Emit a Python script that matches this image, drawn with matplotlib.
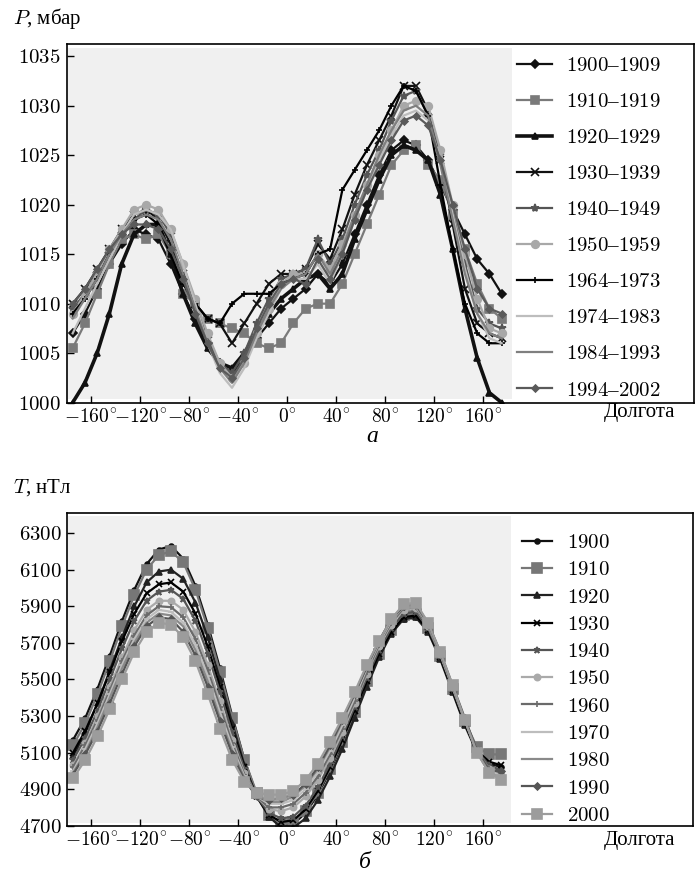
import matplotlib
matplotlib.use('Agg')
import matplotlib.pyplot as plt

plt.rcParams['mathtext.fontset'] = 'cm'
plt.rcParams['font.family'] = ['Liberation Serif', 'DejaVu Serif']

# долготы (общие для обеих панелей)
lon = [-175, -165, -155, -145, -135, -125, -115, -105, -95, -85, -75, -65,
       -55, -45, -35, -25, -15, -5, 5, 15, 25, 35, 45, 55,
       65, 75, 85, 95, 105, 115, 125, 135, 145, 155, 165, 175]

# --- а: давление P, мбар ---
p_labels = ['1900–1909', '1910–1919', '1920–1929', '1930–1939', '1940–1949',
            '1950–1959', '1964–1973', '1974–1983', '1984–1993', '1994–2002']
p_1900 = [1007, 1009, 1011.5, 1014, 1016, 1017.5, 1017, 1016.5, 1014, 1011, 1008.5, 1006,
          1004, 1003, 1004.5, 1006.5, 1008, 1009.5, 1010.5, 1011.5, 1013, 1012, 1014, 1017,
          1020, 1023, 1025.5, 1026.5, 1026, 1024.5, 1022, 1019.5, 1017, 1014.5, 1013, 1011]
p_1910 = [1005.5, 1008, 1011, 1014, 1016.5, 1017, 1016.5, 1017, 1015, 1011, 1010, 1008.5,
          1008, 1007.5, 1007, 1006, 1005.5, 1006, 1008, 1009.5, 1010, 1010, 1012, 1015,
          1018, 1021, 1024, 1025.5, 1026, 1024, 1022.5, 1019, 1015.5, 1012, 1009.5, 1008.5]
p_1920 = [1000, 1002, 1005, 1009, 1014, 1017, 1018, 1018, 1015, 1011, 1008, 1005.5,
          1004, 1003.5, 1005, 1007, 1009, 1010.5, 1011.5, 1012.5, 1013, 1011.5, 1013, 1016.5,
          1019.5, 1022.5, 1025, 1026, 1025.5, 1024.5, 1021, 1015.5, 1009.5, 1004.5, 1001, 1000]
p_1930 = [1010, 1011.5, 1013.5, 1015.5, 1017.5, 1019, 1019.5, 1018.5, 1016, 1013, 1010, 1008.5,
          1008, 1006, 1008, 1010, 1012, 1013, 1013, 1013.5, 1016, 1014.5, 1017.5, 1021,
          1024, 1026.5, 1029, 1032, 1032, 1029.5, 1024.5, 1018, 1011.5, 1008, 1007, 1006.5]
p_1940 = [1009.5, 1011, 1013, 1015, 1017, 1018.5, 1019.5, 1019, 1017, 1014, 1010, 1006.5,
          1004, 1003, 1005, 1008, 1010.5, 1012.5, 1013, 1013.5, 1016.5, 1014, 1016.5, 1020,
          1023, 1025.5, 1028.5, 1031, 1031.5, 1029, 1025, 1019.5, 1014, 1009.5, 1008, 1007.5]
p_1950 = [1009, 1011, 1013, 1015.5, 1017.5, 1019.5, 1020, 1019.5, 1017.5, 1014, 1010.5, 1007,
          1004, 1002.5, 1004, 1007, 1009.5, 1012, 1013, 1013, 1015, 1013.5, 1016, 1019,
          1022, 1025, 1027.5, 1030, 1030.5, 1030, 1025.5, 1020, 1015, 1010.5, 1007.5, 1007]
p_1964 = [1009, 1010.5, 1012.5, 1015, 1017, 1018.5, 1019, 1018, 1015, 1012, 1010, 1008.5,
          1008, 1010, 1011, 1011, 1011, 1012, 1012.5, 1013, 1015, 1015.5, 1021.5, 1023.5,
          1025.5, 1027.5, 1030, 1032, 1031.5, 1029, 1022, 1015.5, 1010, 1007, 1006, 1006]
p_1974 = [1007, 1009.5, 1012, 1014.5, 1017, 1019, 1019.5, 1019, 1017.5, 1014, 1010, 1006,
          1003, 1001.5, 1003.5, 1006.5, 1009, 1011.5, 1012.5, 1012.5, 1014, 1012, 1015, 1018.5,
          1021.5, 1024.5, 1027, 1029, 1029.5, 1028.5, 1024.5, 1019, 1013.5, 1009, 1006.5, 1006]
p_1984 = [1008.5, 1010.5, 1012.5, 1015, 1017, 1018.5, 1019, 1018.5, 1016.5, 1013, 1009.5, 1006,
          1003.5, 1002, 1004, 1007, 1009.5, 1011.5, 1012.5, 1013, 1015, 1013, 1015.5, 1019,
          1022, 1025, 1027.5, 1029.5, 1030, 1029, 1024, 1018.5, 1013, 1009, 1007, 1006.5]
p_1994 = [1010, 1011.5, 1013.5, 1015.5, 1017, 1018, 1018, 1017.5, 1015.5, 1012.5, 1009, 1006,
          1003.5, 1002.5, 1004.5, 1007.5, 1010, 1012, 1012.5, 1012, 1014.5, 1012.5, 1015, 1018.5,
          1021.5, 1024, 1026.5, 1028.5, 1029, 1028, 1024.5, 1020, 1015.5, 1011.5, 1009.5, 1009]
p_series = [p_1900, p_1910, p_1920, p_1930, p_1940, p_1950, p_1964, p_1974, p_1984, p_1994]

# --- б: поле T, нТл ---
t_labels = ['1900', '1910', '1920', '1930', '1940', '1950',
            '1960', '1970', '1980', '1990', '2000']
t_1900 = [5170, 5290, 5450, 5630, 5820, 5990, 6130, 6210, 6230, 6160, 6010, 5800,
          5560, 5300, 5060, 4870, 4750, 4700, 4710, 4770, 4870, 5000, 5150, 5310,
          5480, 5630, 5760, 5830, 5840, 5770, 5620, 5440, 5260, 5110, 5040, 5020]
t_1910 = [5140, 5260, 5420, 5600, 5790, 5960, 6100, 6180, 6200, 6140, 5990, 5780,
          5540, 5290, 5060, 4880, 4760, 4710, 4720, 4780, 4880, 5010, 5160, 5320,
          5490, 5640, 5770, 5850, 5860, 5780, 5630, 5450, 5270, 5130, 5090, 5090]
t_1920 = [5080, 5210, 5370, 5550, 5730, 5900, 6030, 6090, 6100, 6050, 5920, 5730,
          5500, 5260, 5030, 4860, 4750, 4690, 4690, 4740, 4840, 4970, 5120, 5290,
          5460, 5620, 5750, 5830, 5840, 5760, 5610, 5430, 5250, 5100, 5030, 5000]
t_1930 = [5100, 5220, 5370, 5540, 5710, 5860, 5970, 6020, 6030, 5980, 5860, 5680,
          5460, 5230, 5020, 4860, 4760, 4720, 4730, 4790, 4890, 5020, 5170, 5330,
          5490, 5640, 5760, 5840, 5850, 5770, 5620, 5440, 5260, 5110, 5050, 5030]
t_1940 = [5060, 5180, 5330, 5500, 5670, 5820, 5930, 5980, 5990, 5940, 5820, 5640,
          5430, 5210, 5010, 4860, 4770, 4740, 4750, 4810, 4910, 5040, 5190, 5350,
          5510, 5660, 5780, 5860, 5870, 5780, 5630, 5450, 5270, 5110, 5030, 5000]
t_1950 = [5030, 5150, 5300, 5460, 5620, 5770, 5880, 5930, 5930, 5880, 5760, 5580,
          5380, 5170, 4990, 4860, 4790, 4780, 4800, 4860, 4950, 5070, 5210, 5370,
          5530, 5680, 5800, 5880, 5890, 5790, 5640, 5460, 5280, 5110, 5010, 4980]
t_1960 = [5020, 5140, 5280, 5440, 5600, 5740, 5850, 5900, 5895, 5840, 5720, 5550,
          5350, 5150, 4980, 4860, 4800, 4800, 4820, 4880, 4970, 5090, 5230, 5380,
          5540, 5690, 5810, 5890, 5895, 5790, 5640, 5460, 5280, 5110, 5010, 4990]
t_1970 = [5000, 5120, 5260, 5420, 5580, 5720, 5830, 5880, 5870, 5810, 5690, 5520,
          5320, 5130, 4970, 4860, 4820, 4820, 4840, 4900, 4990, 5110, 5250, 5400,
          5560, 5700, 5820, 5900, 5900, 5800, 5640, 5460, 5280, 5100, 5000, 4970]
t_1980 = [4990, 5100, 5240, 5400, 5560, 5700, 5810, 5860, 5850, 5790, 5660, 5490,
          5290, 5110, 4960, 4860, 4830, 4830, 4860, 4920, 5010, 5130, 5270, 5420,
          5570, 5710, 5830, 5900, 5905, 5800, 5640, 5460, 5280, 5100, 4990, 4960]
t_1990 = [4980, 5090, 5220, 5370, 5530, 5680, 5790, 5840, 5830, 5760, 5630, 5460,
          5270, 5090, 4950, 4860, 4840, 4850, 4870, 4930, 5020, 5140, 5280, 5420,
          5570, 5710, 5830, 5900, 5910, 5810, 5650, 5470, 5290, 5110, 5000, 5000]
t_2000 = [4960, 5060, 5190, 5340, 5500, 5650, 5760, 5810, 5800, 5730, 5600, 5420,
          5230, 5060, 4940, 4880, 4870, 4870, 4890, 4950, 5040, 5160, 5290, 5430,
          5580, 5710, 5830, 5910, 5920, 5810, 5650, 5470, 5280, 5100, 4990, 4950]
t_series = [t_1900, t_1910, t_1920, t_1930, t_1940, t_1950,
            t_1960, t_1970, t_1980, t_1990, t_2000]

x_ticks = [-160, -120, -80, -40, 0, 40, 80, 120, 160]
p_ticks = [1000, 1005, 1010, 1015, 1020, 1025, 1030, 1035]
t_ticks = [4700, 4900, 5100, 5300, 5500, 5700, 5900, 6100, 6300]

# стили линий (цвет, маркер, размер маркера, толщина)
p_styles = [('#111111', 'D', 4.5, 1.6), ('#7a7a7a', 's', 5.5, 1.6), ('#111111', '^', 5, 2.6),
            ('#111111', 'x', 6, 1.6), ('#555555', '*', 6, 1.6), ('#a8a8a8', 'o', 5.5, 1.6),
            ('#000000', '+', 5, 1.6), ('#bdbdbd', None, 0, 1.6), ('#7f7f7f', None, 0, 1.6),
            ('#5a5a5a', 'D', 3.5, 1.6)]
t_styles = [('#111111', 'o', 3.5, 1.6), ('#777777', 's', 7, 1.6), ('#222222', '^', 4.5, 1.6),
            ('#000000', 'x', 4, 1.6), ('#555555', '*', 4.5, 1.6), ('#aaaaaa', 'o', 4.5, 1.6),
            ('#6a6a6a', '+', 4.5, 1.6), ('#bdbdbd', '_', 4, 1.6), ('#8a8a8a', None, 0, 1.6),
            ('#555555', 'D', 3.5, 1.6), ('#9c9c9c', 's', 7, 1.6)]

fig = plt.figure(figsize=(6.95, 8.92), dpi=100)
ax1 = fig.add_axes([0.0957, 0.5486, 0.9023, 0.4017])
ax2 = fig.add_axes([0.0964, 0.0743, 0.9007, 0.3506])


def draw(ax, series, labels, styles):
    ax.axvspan(-179, 183, ymin=0.01, ymax=0.99, color='#f0f0f0', lw=0, zorder=0)
    for ys, lab, (c, m, ms, lw) in zip(series, labels, styles):
        ax.plot(lon, ys, color=c, lw=lw, marker=m, ms=ms, mew=1.2,
                label=r'$' + lab.replace('–', '$–$') + '$')
    ax.set_xlim(-180, 331.5)
    ax.set_xticks(x_ticks)
    ax.set_xticklabels([r'$%d^{\circ}$' % v for v in x_ticks])
    ax.tick_params(direction='in', length=5, width=1, labelsize=15, pad=4,
                   top=False, right=False)
    ax.tick_params(axis='x', labelsize=14)
    for s in ax.spines.values():
        s.set_linewidth(1.2)


draw(ax1, p_series, p_labels, p_styles)
ax1.set_ylim(1000.2, 1036.2)
ax1.set_yticks(p_ticks)
ax1.set_yticklabels([r'$%d$' % v for v in p_ticks])
ax1.legend(loc='upper left', bbox_to_anchor=(0.744, 0.9366), bbox_transform=fig.transFigure,
           frameon=False, fontsize=15, handlelength=1.7, handletextpad=0.67,
           labelspacing=0.79, borderpad=0, borderaxespad=0)

draw(ax2, t_series, t_labels, t_styles)
ax2.set_ylim(4700, 6410)
ax2.set_yticks(t_ticks)
ax2.set_yticklabels([r'$%d$' % v for v in t_ticks])
ax2.legend(loc='upper left', bbox_to_anchor=(0.751, 0.402), bbox_transform=fig.transFigure,
           frameon=False, fontsize=15, handlelength=1.45, handletextpad=0.72,
           labelspacing=0.37, borderpad=0, borderaxespad=0)

fig.text(0.0187, 0.9787, r'$P$, мбар', fontsize=15, ha='left', va='center')
fig.text(0.0187, 0.4529, r'$T$, нТл', fontsize=15, ha='left', va='center')
fig.text(0.92, 0.5375, 'Долгота', fontsize=15, ha='center', va='center')
fig.text(0.92, 0.0575, 'Долгота', fontsize=15, ha='center', va='center')
fig.text(0.535, 0.511, 'а', fontsize=17, style='italic', ha='center', va='center')
fig.text(0.525, 0.0336, 'б', fontsize=17, style='italic', ha='center', va='center')

fig.savefig('out.png', dpi=100)
